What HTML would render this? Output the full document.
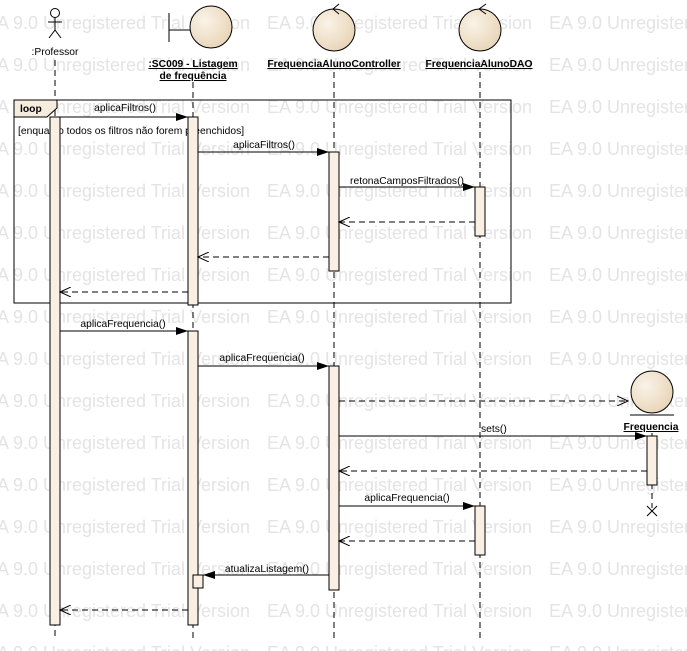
<!DOCTYPE html>
<html><head><meta charset="utf-8"><style>
html,body{margin:0;padding:0;background:#fff;}
svg{display:block;font-family:"Liberation Sans",Arial,sans-serif;}
.wm{font-size:18px;fill:#e4e4e4;}
.lbl{font-size:10.3px;fill:#000;}
.b{font-weight:bold;text-decoration:underline;}
.ll{stroke:#000;stroke-width:1;stroke-dasharray:6,4;fill:none;}
.act{fill:#f9efe3;stroke:#000;stroke-width:1;}
.m{stroke:#000;stroke-width:1;fill:none;}
.r{stroke:#000;stroke-width:1;fill:none;stroke-dasharray:6,4;}
</style></head><body>
<svg width="687" height="651" viewBox="0 0 687 651" xmlns="http://www.w3.org/2000/svg">
<defs>
<marker id="f" markerWidth="12" markerHeight="8" refX="12" refY="4" orient="auto" markerUnits="userSpaceOnUse"><path d="M0,0 L12,4 L0,8 z" fill="#000"/></marker>
<marker id="o" markerWidth="12" markerHeight="10" refX="11" refY="5" orient="auto" markerUnits="userSpaceOnUse"><path d="M0,0 L11,5 L0,10" fill="none" stroke="#000"/></marker>
<radialGradient id="g" cx="35%" cy="35%" r="70%"><stop offset="0" stop-color="#faf3e8"/><stop offset="1" stop-color="#e8d5b8"/></radialGradient>
</defs>
<g class="wm">
<text x="-15" y="29" textLength="265">EA 9.0 Unregistered Trial Version</text><text x="267" y="29" textLength="265">EA 9.0 Unregistered Trial Version</text><text x="549" y="29" textLength="265">EA 9.0 Unregistered Trial Version</text>
<text x="-15" y="71" textLength="265">EA 9.0 Unregistered Trial Version</text><text x="267" y="71" textLength="265">EA 9.0 Unregistered Trial Version</text><text x="549" y="71" textLength="265">EA 9.0 Unregistered Trial Version</text>
<text x="-15" y="113" textLength="265">EA 9.0 Unregistered Trial Version</text><text x="267" y="113" textLength="265">EA 9.0 Unregistered Trial Version</text><text x="549" y="113" textLength="265">EA 9.0 Unregistered Trial Version</text>
<text x="-15" y="155" textLength="265">EA 9.0 Unregistered Trial Version</text><text x="267" y="155" textLength="265">EA 9.0 Unregistered Trial Version</text><text x="549" y="155" textLength="265">EA 9.0 Unregistered Trial Version</text>
<text x="-15" y="197" textLength="265">EA 9.0 Unregistered Trial Version</text><text x="267" y="197" textLength="265">EA 9.0 Unregistered Trial Version</text><text x="549" y="197" textLength="265">EA 9.0 Unregistered Trial Version</text>
<text x="-15" y="239" textLength="265">EA 9.0 Unregistered Trial Version</text><text x="267" y="239" textLength="265">EA 9.0 Unregistered Trial Version</text><text x="549" y="239" textLength="265">EA 9.0 Unregistered Trial Version</text>
<text x="-15" y="281" textLength="265">EA 9.0 Unregistered Trial Version</text><text x="267" y="281" textLength="265">EA 9.0 Unregistered Trial Version</text><text x="549" y="281" textLength="265">EA 9.0 Unregistered Trial Version</text>
<text x="-15" y="323" textLength="265">EA 9.0 Unregistered Trial Version</text><text x="267" y="323" textLength="265">EA 9.0 Unregistered Trial Version</text><text x="549" y="323" textLength="265">EA 9.0 Unregistered Trial Version</text>
<text x="-15" y="365" textLength="265">EA 9.0 Unregistered Trial Version</text><text x="267" y="365" textLength="265">EA 9.0 Unregistered Trial Version</text><text x="549" y="365" textLength="265">EA 9.0 Unregistered Trial Version</text>
<text x="-15" y="407" textLength="265">EA 9.0 Unregistered Trial Version</text><text x="267" y="407" textLength="265">EA 9.0 Unregistered Trial Version</text><text x="549" y="407" textLength="265">EA 9.0 Unregistered Trial Version</text>
<text x="-15" y="449" textLength="265">EA 9.0 Unregistered Trial Version</text><text x="267" y="449" textLength="265">EA 9.0 Unregistered Trial Version</text><text x="549" y="449" textLength="265">EA 9.0 Unregistered Trial Version</text>
<text x="-15" y="491" textLength="265">EA 9.0 Unregistered Trial Version</text><text x="267" y="491" textLength="265">EA 9.0 Unregistered Trial Version</text><text x="549" y="491" textLength="265">EA 9.0 Unregistered Trial Version</text>
<text x="-15" y="533" textLength="265">EA 9.0 Unregistered Trial Version</text><text x="267" y="533" textLength="265">EA 9.0 Unregistered Trial Version</text><text x="549" y="533" textLength="265">EA 9.0 Unregistered Trial Version</text>
<text x="-15" y="575" textLength="265">EA 9.0 Unregistered Trial Version</text><text x="267" y="575" textLength="265">EA 9.0 Unregistered Trial Version</text><text x="549" y="575" textLength="265">EA 9.0 Unregistered Trial Version</text>
<text x="-15" y="617" textLength="265">EA 9.0 Unregistered Trial Version</text><text x="267" y="617" textLength="265">EA 9.0 Unregistered Trial Version</text><text x="549" y="617" textLength="265">EA 9.0 Unregistered Trial Version</text>
<text x="-15" y="659" textLength="265">EA 9.0 Unregistered Trial Version</text><text x="267" y="659" textLength="265">EA 9.0 Unregistered Trial Version</text><text x="549" y="659" textLength="265">EA 9.0 Unregistered Trial Version</text>
</g>
<g stroke="#000" fill="none">
<circle cx="55" cy="13" r="4.5" fill="#fff"/><line x1="55" y1="17.5" x2="55" y2="30"/><line x1="48" y1="22" x2="62" y2="22"/><line x1="55" y1="30" x2="49" y2="38"/><line x1="55" y1="30" x2="61" y2="38"/>
</g>
<text class="lbl" x="55" y="55" text-anchor="middle">:Professor</text>
<circle cx="211" cy="27" r="21" fill="url(#g)" stroke="#000"/>
<line x1="169" y1="13" x2="169" y2="42" stroke="#000"/><line x1="169" y1="30" x2="190" y2="30" stroke="#000"/>
<text class="lbl b" x="193" y="67" text-anchor="middle">:SC009 - Listagem</text>
<text class="lbl b" x="193" y="79" text-anchor="middle">de frequência</text>
<circle cx="334" cy="30" r="21" fill="url(#g)" stroke="#000"/>
<path d="M339,4 L333,9 L339,14" fill="none" stroke="#000"/>
<text class="lbl b" x="334" y="67" text-anchor="middle">FrequenciaAlunoController</text>
<circle cx="480" cy="30" r="21" fill="url(#g)" stroke="#000"/>
<path d="M486,4 L479,9 L486,14" fill="none" stroke="#000"/>
<text class="lbl b" x="479" y="67" text-anchor="middle">FrequenciaAlunoDAO</text>
<line class="ll" x1="55" y1="60" x2="55" y2="640"/>
<line class="ll" x1="193" y1="82" x2="193" y2="640"/>
<line class="ll" x1="334" y1="72" x2="334" y2="640"/>
<line class="ll" x1="480" y1="72" x2="480" y2="640"/>
<line class="ll" x1="652" y1="433" x2="652" y2="508"/>
<rect x="14" y="100" width="497" height="203" fill="none" stroke="#000"/>
<path d="M14,100 L57,100 L57,108 L47,117 L14,117 z" fill="#f6ecdd" stroke="#000"/>
<text class="lbl" x="20" y="112" font-weight="bold">loop</text>
<text class="lbl" x="18" y="134">[enquanto todos os filtros não forem preenchidos]</text>
<rect class="act" x="50" y="117" width="10" height="508"/>
<rect class="act" x="188" y="117" width="10" height="188"/>
<rect class="act" x="188" y="331" width="10" height="294"/>
<rect class="act" x="193" y="575" width="10" height="13"/>
<rect class="act" x="329" y="152" width="10" height="119"/>
<rect class="act" x="329" y="366" width="10" height="224"/>
<rect class="act" x="475" y="187" width="10" height="49"/>
<rect class="act" x="475" y="506" width="10" height="49"/>
<rect class="act" x="647" y="436" width="10" height="49"/>
<circle cx="652" cy="392" r="21" fill="url(#g)" stroke="#000"/>
<line x1="630" y1="415" x2="674" y2="415" stroke="#000"/>
<text class="lbl b" x="651" y="430" text-anchor="middle">Frequencia</text>
<path d="M647,506 L657,516 M657,506 L647,516" stroke="#000"/>
<line class="m" x1="60" y1="117" x2="188" y2="117" marker-end="url(#f)"/><text class="lbl" x="125" y="111" text-anchor="middle">aplicaFiltros()</text>
<line class="m" x1="198" y1="152" x2="329" y2="152" marker-end="url(#f)"/><text class="lbl" x="264" y="148" text-anchor="middle">aplicaFiltros()</text>
<line class="m" x1="339" y1="187" x2="475" y2="187" marker-end="url(#f)"/><text class="lbl" x="407" y="184" text-anchor="middle">retonaCamposFiltrados()</text>
<line class="r" x1="475" y1="222" x2="339" y2="222" marker-end="url(#o)"/>
<line class="r" x1="329" y1="257" x2="198" y2="257" marker-end="url(#o)"/>
<line class="r" x1="188" y1="292" x2="60" y2="292" marker-end="url(#o)"/>
<line class="m" x1="60" y1="331" x2="188" y2="331" marker-end="url(#f)"/><text class="lbl" x="123" y="327" text-anchor="middle">aplicaFrequencia()</text>
<line class="m" x1="198" y1="366" x2="329" y2="366" marker-end="url(#f)"/><text class="lbl" x="262" y="361" text-anchor="middle">aplicaFrequencia()</text>
<line class="r" x1="339" y1="401" x2="628" y2="401" marker-end="url(#o)"/>
<line class="m" x1="339" y1="436" x2="647" y2="436" marker-end="url(#f)"/><text class="lbl" x="481" y="432">sets()</text>
<line class="r" x1="647" y1="471" x2="339" y2="471" marker-end="url(#o)"/>
<line class="m" x1="339" y1="506" x2="475" y2="506" marker-end="url(#f)"/><text class="lbl" x="407" y="501" text-anchor="middle">aplicaFrequencia()</text>
<line class="r" x1="475" y1="541" x2="339" y2="541" marker-end="url(#o)"/>
<line class="m" x1="329" y1="575" x2="203" y2="575" marker-end="url(#f)"/><text class="lbl" x="267" y="572" text-anchor="middle">atualizaListagem()</text>
<line class="r" x1="188" y1="610" x2="60" y2="610" marker-end="url(#o)"/>
</svg>
</body></html>
